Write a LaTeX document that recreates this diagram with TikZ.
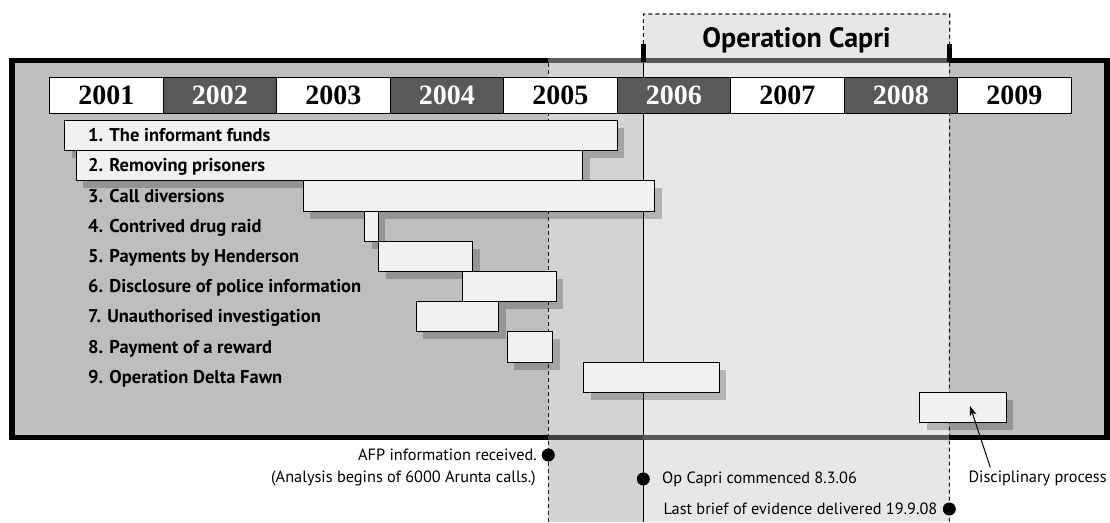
\documentclass[tikz,border=0pt]{standalone}
\usepackage{fontspec}
\setmainfont{Liberation Serif}
\newfontfamily\labfont{PT Sans}
\usetikzlibrary{arrows.meta,shadows,calc}
\definecolor{framegray}{HTML}{BCBEC0}
\definecolor{afpband}{HTML}{D1D3D4}
\definecolor{capriband}{HTML}{E6E7E8}
\definecolor{barfill}{HTML}{F1F1F2}
\definecolor{darkyear}{HTML}{58595B}
\definecolor{darkedge}{HTML}{414042}
\newcommand\gbar[4]{\node[bar,minimum width=#3pt-#2pt] (#1) at (#2,#4) {};}
\begin{document}
\begin{tikzpicture}[x=1pt,y=-1pt,
  yearw/.style={draw=black,line width=1pt,fill=white,minimum width=113.5pt,minimum height=36pt,inner sep=0pt,anchor=north west,font=\fontsize{28}{28}\selectfont\bfseries},
  yeard/.style={yearw,fill=darkyear,text=white},
  bar/.style={draw=black,line width=0.9pt,fill=barfill,inner sep=0pt,anchor=north west,minimum height=30.2pt,drop shadow={shadow xshift=7pt,shadow yshift=-7.5pt,fill=black,opacity=0.22}},
  lab/.style={anchor=base west,inner sep=0pt,font=\labfont\bfseries\fontsize{18.5}{18.5}\selectfont},
  note/.style={inner sep=0pt,font=\labfont\fontsize{16.3}{16.3}\selectfont},
  dot/.style={circle,fill=black,inner sep=0pt,minimum size=13pt},
  dashln/.style={line width=1.1pt,dash pattern=on 4pt off 3pt,black!90},
  solidln/.style={line width=1.5pt,black},
  tick/.style={line width=5pt,black},
]
\useasboundingbox (0,0) rectangle (1110,522);
\fill[white] (0,0) rectangle (1110,522);
% frame fill
\node[fill=framegray,minimum width=1095pt,minimum height=377pt,anchor=north west,inner sep=0pt] (frame) at (11.75,60.25) {};
% bands
\fill[afpband] (548.3,60.25) rectangle (643.3,522);
\node[fill=capriband,minimum width=306pt,minimum height=46.25pt,anchor=north west,inner sep=0pt] (capri) at (643.3,14) {};
\fill[capriband] (capri.south west) rectangle (949.3,522);
\node[anchor=base,inner sep=0pt,font=\labfont\bfseries\fontsize{28}{28}\selectfont] (capritxt) at (capri.center |- 0,47) {Operation Capri};
% lines
\coordinate (afpTop) at (548.3,63);
\coordinate (afpBot) at (548.3,522);
\coordinate (capTop) at (643.3,44);
\coordinate (capBot) at (643.3,522);
\coordinate (endBot) at (949.3,522);
\draw[dashln] (afpTop) -- (afpBot);
\draw[solidln] (capTop) -- (capBot);
\draw[dashln] (capTop) -- (capri.north west) -- (capri.north east) -- (endBot);
% frame border
\draw[line width=5.5pt,black] (frame.north west) rectangle (frame.south east);
\draw[line width=5.5pt,darkyear] (548.3,60.25) -- (949.3,60.25);
\draw[line width=5.5pt,darkedge] (548.3,437.25) -- (643.3,437.25);
\draw[line width=5.5pt,darkyear] (643.3,437.25) -- (949.3,437.25);
\draw[tick] (capTop) -- (643.3,62);
\draw[tick] (949.3,44) -- (949.3,62);
% years
\node[yearw] (y2001) at (49,76.5) {2001};
\node[yeard] (y2002) at (162.5,76.5) {2002};
\node[yearw] (y2003) at (276,76.5) {2003};
\node[yeard] (y2004) at (389.5,76.5) {2004};
\node[yearw] (y2005) at (503,76.5) {2005};
\node[yeard] (y2006) at (616.5,76.5) {2006};
\node[yearw] (y2007) at (730,76.5) {2007};
\node[yeard] (y2008) at (843.5,76.5) {2008};
\node[yearw] (y2009) at (957,76.5) {2009};
% bars
\gbar{b1}{64.3}{616.7}{120}
\gbar{b2}{75.7}{582.3}{150.2}
\gbar{b3}{302.7}{654.3}{180.4}
\gbar{b4}{364.3}{377.7}{210.6}
\gbar{b5}{378.3}{472.3}{240.8}
\gbar{b6}{461.7}{556}{271}
\gbar{b7}{416}{498.3}{301.2}
\gbar{b8}{506.7}{552.3}{331.4}
\gbar{b9}{583.3}{718.7}{361.6}
\gbar{b10}{919.3}{1006}{391.8}
% labels
\node[lab] (l1) at (88,141.7) {1. The informant funds};
\node[lab] (l2) at (88,171.9) {2. Removing prisoners};
\node[lab] (l3) at (88,202.1) {3. Call diversions};
\node[lab] (l4) at (88,232.3) {4. Contrived drug raid};
\node[lab] (l5) at (88,262.5) {5. Payments by Henderson};
\node[lab] (l6) at (88,292.7) {6. Disclosure of police information};
\node[lab] (l7) at (88,322.9) {7. Unauthorised investigation};
\node[lab] (l8) at (88,353.1) {8. Payment of a reward};
\node[lab] (l9) at (88,383.3) {9. Operation Delta Fawn};
% annotations
\node[dot] (d1) at (548.3,455) {};
\node[dot] (d2) at (643.3,479) {};
\node[dot] (d3) at (949.3,509) {};
\node[note,anchor=east] (afp1) at (537,455) {AFP information received.};
\node[note,anchor=east] (afp2) at (536,478) {(Analysis begins of 6000 Arunta calls.)};
\node[note,anchor=west] (opc) at (662,479) {Op Capri commenced 8.3.06};
\node[note,anchor=east] (lbe) at (937.5,509) {Last brief of evidence delivered 19.9.08};
\node[note,anchor=west] (disc) at (968.3,478) {Disciplinary process};
\coordinate (arrtip) at (970,406);
\draw[line width=1pt,-{Stealth[length=10pt,width=7pt]}] ([xshift=22pt,yshift=3pt]disc.north west) -- (arrtip);
\end{tikzpicture}
\end{document}
